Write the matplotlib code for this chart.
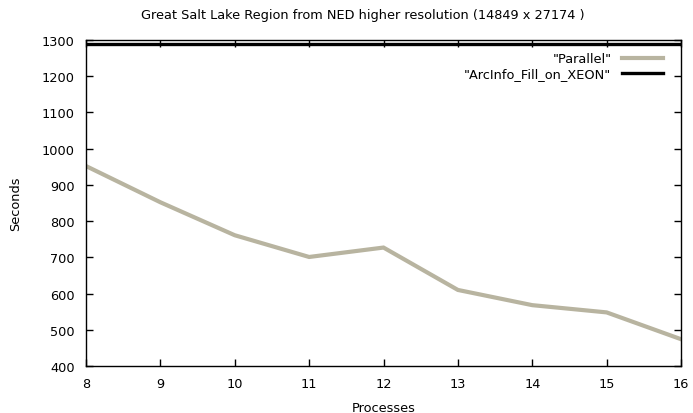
import matplotlib
matplotlib.use("Agg")
import matplotlib.pyplot as plt

processes = [8, 9, 10, 11, 12, 13, 14, 15, 16]
parallel = [952, 852, 761, 701, 727, 610, 568, 548, 474]
arcinfo_xeon = [1290] * len(processes)
x_ticks = list(range(8, 17))
y_ticks = list(range(400, 1301, 100))

fig = plt.figure(figsize=(6.93, 4.14), dpi=100)
ax = fig.add_axes([0.1241, 0.1135, 0.8586, 0.7875])

ax.plot(processes, parallel, color="#b8b4a0", lw=3.0, label='"Parallel"',
        solid_joinstyle="miter")
ax.plot(processes, arcinfo_xeon, color="black", lw=2.4, label='"ArcInfo_Fill_on_XEON"')

ax.set_xlim(8, 16)
ax.set_ylim(400, 1300)
ax.set_xticks(x_ticks)
ax.set_yticks(y_ticks)
ax.tick_params(direction="in", length=5, width=1, top=True, right=True,
               labelsize=9.3, colors="black", pad=8)
for s in ax.spines.values():
    s.set_linewidth(1.0)

ax.set_xlabel("Processes", fontsize=9.3, labelpad=8)
ax.set_ylabel("Seconds", fontsize=9.3, labelpad=14)
fig.text(0.524, 0.963, "Great Salt Lake Region from NED higher resolution (14849 x 27174 )",
         ha="center", va="center", fontsize=9.3)

leg = ax.legend(loc="upper right", frameon=False, markerfirst=False, fontsize=9.3,
                handlelength=3.2, labelspacing=0.15, borderaxespad=0.3,
                bbox_to_anchor=(0.985, 0.99))
for t in leg.get_texts():
    t.set_ha("right")

fig.savefig("out.png", dpi=100)
